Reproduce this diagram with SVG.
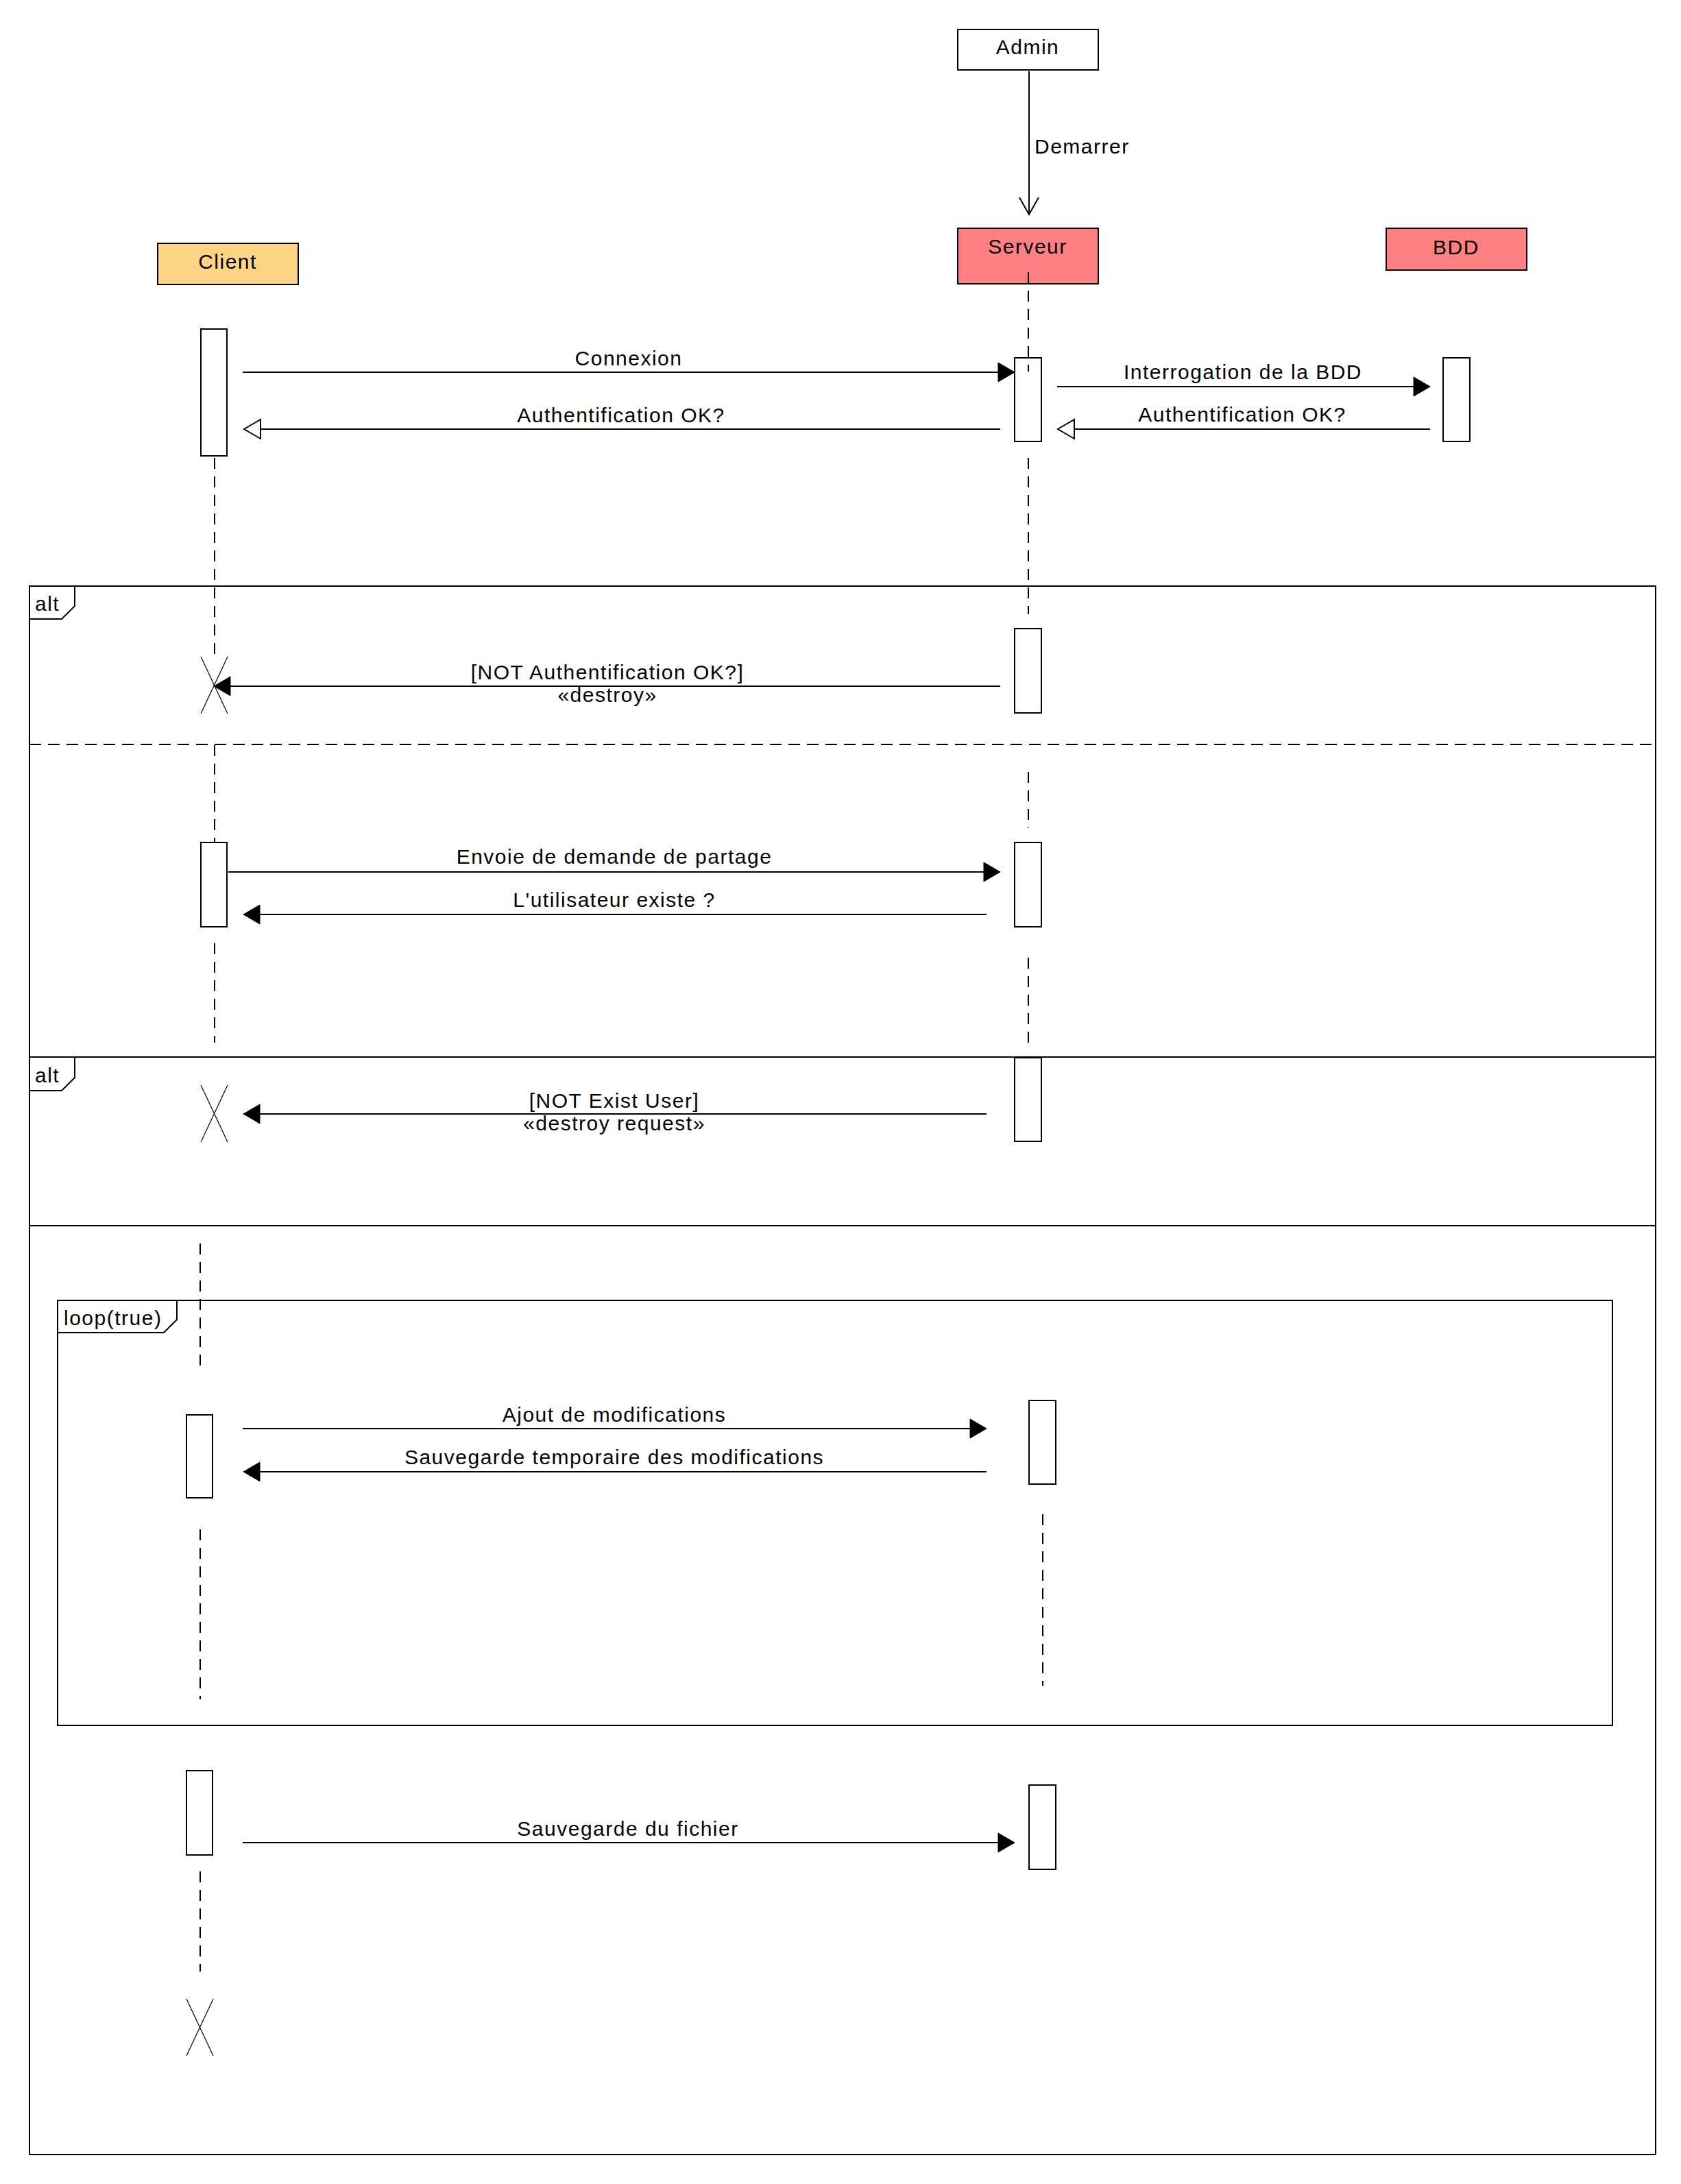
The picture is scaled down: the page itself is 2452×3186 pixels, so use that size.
<svg xmlns="http://www.w3.org/2000/svg" width="2452" height="3186" viewBox="0 0 2452 3186">
<style>
text{font-family:"Liberation Sans",Arial,Helvetica,sans-serif;font-size:30px;letter-spacing:1.5px;fill:#000}
.c{text-anchor:middle}
.box{stroke:#000;stroke-width:2}
.act{fill:#fff;stroke:#000;stroke-width:2}
.life{stroke:#000;stroke-width:2;stroke-dasharray:16 11;fill:none}
.msg{stroke:#000;stroke-width:2;fill:none}
.frame{fill:none;stroke:#000;stroke-width:2}
.x{stroke:#000;stroke-width:1.2}
</style>
<defs>
<marker id="fill" markerUnits="userSpaceOnUse" markerWidth="28" markerHeight="32" refX="25" refY="15" orient="auto">
<path d="M1,1 L25,15 L1,29 z" fill="#000" stroke="#000" stroke-width="1"/>
</marker>
<marker id="open" markerUnits="userSpaceOnUse" markerWidth="28" markerHeight="32" refX="25" refY="15" orient="auto">
<path d="M1,1 L25,15 L1,29 z" fill="#fff" stroke="#000" stroke-width="2"/>
</marker>
<marker id="vee" markerUnits="userSpaceOnUse" markerWidth="30" markerHeight="34" refX="26" refY="16" orient="auto">
<path d="M1,2 L26,16 L1,30" fill="none" stroke="#000" stroke-width="2"/>
</marker>
</defs>
<rect width="2452" height="3186" fill="#fff"/>

<g id="frames">
<rect class="frame" x="43" y="855" width="2372" height="2288"/>
<path class="frame" d="M43,903 L90,903 L109,884 L109,855"/>
<text x="51" y="891">alt</text>
<line x1="43" y1="1086" x2="2415" y2="1086" stroke="#000" stroke-width="2" stroke-dasharray="17 10"/>
<line class="frame" x1="43" y1="1542" x2="2415" y2="1542"/>
<path class="frame" d="M43,1591 L90,1591 L109,1572 L109,1542"/>
<text x="51" y="1579">alt</text>
<line class="frame" x1="43" y1="1788" x2="2415" y2="1788"/>
<rect class="frame" x="84" y="1897" width="2268" height="620"/>
<path class="frame" d="M84,1944 L239,1944 L258,1925 L258,1897"/>
<text x="93" y="1933">loop(true)</text>
</g>

<g id="lifelines">
<line class="life" x1="313" y1="668" x2="313" y2="958"/>
<line class="life" x1="313" y1="1087" x2="313" y2="1229"/>
<line class="life" x1="313" y1="1376" x2="313" y2="1521"/>
<line class="life" x1="292" y1="1814" x2="292" y2="1992"/>
<line class="life" x1="292" y1="2231" x2="292" y2="2479"/>
<line class="life" x1="292" y1="2730" x2="292" y2="2876"/>
<line class="life" x1="1500" y1="668" x2="1500" y2="896"/>
<line class="life" x1="1500" y1="1126" x2="1500" y2="1208"/>
<line class="life" x1="1500" y1="1397" x2="1500" y2="1521"/>
<line class="life" x1="1521" y1="2209" x2="1521" y2="2459"/>
</g>

<g id="admin">
<rect class="box" x="1397" y="43" width="205" height="59" fill="#fff"/>
<text class="c" x="1499" y="79">Admin</text>
</g>

<g id="client">
<rect class="box" x="230" y="355" width="205" height="60" fill="#FFD485"/>
<text class="c" x="332" y="392">Client</text>
</g>

<g id="serveur">
<rect class="box" x="1397" y="333" width="205" height="81" fill="#FF8080"/>
<text class="c" x="1499" y="370">Serveur</text>
</g>

<g id="bdd">
<rect class="box" x="2022" y="333" width="205" height="61" fill="#FF8080"/>
<text class="c" x="2124" y="371">BDD</text>
</g>

<g id="activations">
<rect class="act" x="293" y="480" width="38" height="185"/>
<rect class="act" x="1480" y="522" width="39" height="122"/>
<rect class="act" x="2105" y="522" width="39" height="122"/>
<rect class="act" x="1480" y="917" width="39" height="123"/>
<rect class="act" x="293" y="1229" width="38" height="123"/>
<rect class="act" x="1480" y="1229" width="39" height="123"/>
<rect class="act" x="1480" y="1543" width="39" height="122"/>
<rect class="act" x="272" y="2064" width="38" height="121"/>
<rect class="act" x="1501" y="2043" width="39" height="122"/>
<rect class="act" x="272" y="2583" width="38" height="123"/>
<rect class="act" x="1501" y="2604" width="39" height="123"/>
</g>

<g id="serveur-lifeline-top">
<line class="life" x1="1500" y1="397" x2="1500" y2="542"/>
</g>

<g id="destroy-marks">
<line class="x" x1="293" y1="958" x2="332" y2="1041"/>
<line class="x" x1="332" y1="958" x2="293" y2="1041"/>
<line class="x" x1="293" y1="1583" x2="332" y2="1666"/>
<line class="x" x1="332" y1="1583" x2="293" y2="1666"/>
<line class="x" x1="272" y1="2916" x2="311" y2="2999"/>
<line class="x" x1="311" y1="2916" x2="272" y2="2999"/>
</g>

<g id="connectors">
<line class="msg" x1="1501" y1="104" x2="1501" y2="313" marker-end="url(#vee)"/>
<text x="1509" y="224">Demarrer</text>

<line class="msg" x1="354" y1="543" x2="1480" y2="543" marker-end="url(#fill)"/>
<text class="c" x="917" y="533">Connexion</text>

<line class="msg" x1="1459" y1="626" x2="356" y2="626" marker-end="url(#open)"/>
<text class="c" x="906" y="616">Authentification OK?</text>

<line class="msg" x1="1542" y1="564" x2="2086" y2="564" marker-end="url(#fill)"/>
<text class="c" x="1813" y="553">Interrogation de la BDD</text>

<line class="msg" x1="2086" y1="626" x2="1543" y2="626" marker-end="url(#open)"/>
<text class="c" x="1812" y="615">Authentification OK?</text>

<line class="msg" x1="1459" y1="1001" x2="312" y2="1001" marker-end="url(#fill)"/>
<text class="c" x="886" y="991">[NOT Authentification OK?]</text>
<text class="c" x="886" y="1024">«destroy»</text>

<line class="msg" x1="333" y1="1272" x2="1459" y2="1272" marker-end="url(#fill)"/>
<text class="c" x="896" y="1260">Envoie de demande de partage</text>

<line class="msg" x1="1439" y1="1334" x2="355" y2="1334" marker-end="url(#fill)"/>
<text class="c" x="896" y="1323">L'utilisateur existe ?</text>

<line class="msg" x1="1439" y1="1625" x2="355" y2="1625" marker-end="url(#fill)"/>
<text class="c" x="896" y="1616">[NOT Exist User]</text>
<text class="c" x="896" y="1649">«destroy request»</text>

<line class="msg" x1="354" y1="2084" x2="1439" y2="2084" marker-end="url(#fill)"/>
<text class="c" x="896" y="2074">Ajout de modifications</text>

<line class="msg" x1="1439" y1="2147" x2="355" y2="2147" marker-end="url(#fill)"/>
<text class="c" x="896" y="2136">Sauvegarde temporaire des modifications</text>

<line class="msg" x1="354" y1="2688" x2="1480" y2="2688" marker-end="url(#fill)"/>
<text class="c" x="916" y="2678">Sauvegarde du fichier</text>
</g>
</svg>
